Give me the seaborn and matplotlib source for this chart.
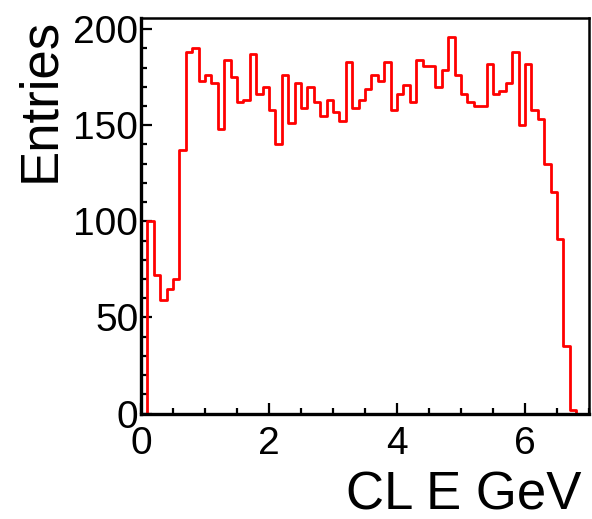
import numpy as np
import pandas as pd
import matplotlib
matplotlib.use("Agg")
import matplotlib.pyplot as plt
import seaborn as sns
from matplotlib.ticker import MultipleLocator

# Cluster energy histogram: 70 bins of 0.1 GeV between 0 and 7 GeV
bin_edges = [round(v, 2) for v in np.linspace(0.0, 7.0, 71)]
entries = [
    0, 100, 72, 59, 65, 70, 137, 188, 190, 173,
    176, 172, 148, 184, 175, 162, 163, 187, 166, 170,
    158, 140, 176, 151, 172, 159, 170, 162, 155, 163,
    157, 152, 183, 159, 163, 169, 176, 173, 183, 158,
    166, 171, 162, 184, 181, 181, 170, 179, 196, 176,
    166, 162, 160, 160, 182, 166, 168, 172, 188, 150,
    182, 158, 153, 130, 115, 91, 35, 2, 0, 0,
]
x_title = "CL E GeV"
y_title = "Entries"
x_major = [0, 2, 4, 6]
y_major = [0, 50, 100, 150, 200]

edges = np.array(bin_edges)
centers = (edges[:-1] + edges[1:]) / 2
df = pd.DataFrame({"energy": centers, "entries": entries})

sns.set_style("ticks")
plt.rcParams["font.family"] = ["Liberation Sans", "DejaVu Sans"]
plt.rcParams["text.color"] = "black"
plt.rcParams["axes.labelcolor"] = "black"
plt.rcParams["xtick.color"] = "black"
plt.rcParams["ytick.color"] = "black"

fig = plt.figure(figsize=(5.92, 5.19), dpi=100)
ax = fig.add_axes([141 / 592, 1 - 413.5 / 519, 448 / 592, (413.5 - 18) / 519])

sns.histplot(
    data=df, x="energy", weights="entries", bins=bin_edges,
    element="step", fill=False, color="#ff0000", linewidth=2.0, ax=ax,
)

ax.set_xlim(0, 7)
ax.set_ylim(0, 1.05 * max(entries))
ax.set_xticks(x_major)
ax.set_yticks(y_major)
ax.xaxis.set_minor_locator(MultipleLocator(0.5))
ax.yaxis.set_minor_locator(MultipleLocator(10))

ax.tick_params(which="both", direction="in", top=False, right=False,
               color="black", labelcolor="black")
ax.tick_params(which="major", length=8, width=1.6, labelsize=28)
ax.tick_params(which="minor", length=4, width=1.6)
ax.tick_params(axis="x", which="major", pad=9)
ax.tick_params(axis="y", which="major", pad=2)

for side in ["left", "bottom"]:
    ax.spines[side].set_linewidth(2.4)
for side in ["top", "right"]:
    ax.spines[side].set_linewidth(1.8)
for sp in ax.spines.values():
    sp.set_color("black")

ax.set_xlabel(x_title, loc="right", fontsize=38, color="black")
ax.xaxis.label.set_va("baseline")
ax.xaxis.set_label_coords((581 - 141) / 448, (413.5 - 509) / 395.5)
ax.set_ylabel(y_title, loc="top", fontsize=38, labelpad=6, color="black")

fig.savefig("out.png", dpi=100)
